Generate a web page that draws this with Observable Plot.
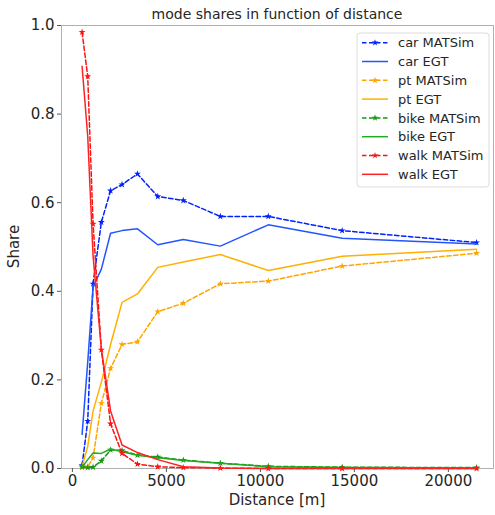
<!DOCTYPE html>
<html>
<head>
<meta charset="utf-8">
<script src="https://cdn.jsdelivr.net/npm/d3@7"></script>
<script src="https://cdn.jsdelivr.net/npm/@observablehq/plot@0.6"></script>
<style>
  html, body { margin: 0; padding: 0; background: #fff; }
  #chart svg { display: block; }
</style>
</head>
<body>
<div id="chart"></div>
<script>
const distances = [515, 815, 1100, 1540, 2030, 2640, 3460, 4540, 5900, 7870, 10420, 14350, 21500];

const carMATSim  = [0.007, 0.107, 0.417, 0.556, 0.627, 0.641, 0.665, 0.614, 0.605, 0.569, 0.569, 0.537, 0.510];
const carEGT     = [0.077, 0.240, 0.410, 0.450, 0.531, 0.537, 0.541, 0.505, 0.517, 0.502, 0.550, 0.520, 0.507];
const ptMATSim   = [0.002, 0.004, 0.024, 0.147, 0.226, 0.280, 0.286, 0.354, 0.373, 0.417, 0.423, 0.457, 0.486];
const ptEGT      = [0.005, 0.050, 0.130, 0.195, 0.280, 0.375, 0.394, 0.454, 0.466, 0.483, 0.447, 0.479, 0.495];
const bikeMATSim = [0.004, 0.002, 0.003, 0.017, 0.042, 0.041, 0.030, 0.026, 0.019, 0.012, 0.005, 0.003, 0.002];
const bikeEGT    = [0.003, 0.020, 0.035, 0.034, 0.044, 0.038, 0.030, 0.024, 0.018, 0.012, 0.004, 0.002, 0.001];
const walkMATSim = [0.985, 0.885, 0.552, 0.268, 0.101, 0.034, 0.010, 0.004, 0.002, 0.001, 0.000, 0.000, 0.000];
const walkEGT    = [0.908, 0.750, 0.480, 0.270, 0.130, 0.053, 0.036, 0.020, 0.004, 0.001, 0.000, 0.000, 0.000];

const seriesNames = ["car MATSim", "car EGT", "pt MATSim", "pt EGT", "bike MATSim", "bike EGT", "walk MATSim", "walk EGT"];
const seriesColors = ["#0022ff", "#2255ff", "#ffa500", "#ffb000", "#119911", "#22aa22", "#ff1111", "#ff2222"];
const yTicks = [0, 0.2, 0.4, 0.6, 0.8, 1.0];
const xTicks = [0, 5000, 10000, 15000, 20000];

const seriesValues = [carMATSim, carEGT, ptMATSim, ptEGT, bikeMATSim, bikeEGT, walkMATSim, walkEGT];
const rows = [];
seriesNames.forEach((name, i) => {
  seriesValues[i].forEach((v, j) => rows.push({series: name, distance: distances[j], share: v, sim: name.endsWith("MATSim")}));
});
const color = {domain: seriesNames, range: seriesColors};

const W = 495, H = 515;
const mL = 61, mR = 2, mT = 25, mB = 47;
const textColor = "#262626";

const plot = Plot.plot({
  width: W, height: H,
  marginLeft: mL, marginRight: mR, marginTop: mT, marginBottom: mB,
  style: {fontFamily: "DejaVu Sans, sans-serif", fontSize: "14px", color: textColor, background: "#fff"},
  x: {domain: [-580, 22400], ticks: xTicks, tickFormat: d3.format("d"), label: null},
  y: {domain: [0, 1], ticks: yTicks, tickFormat: d3.format(".1f"), label: null},
  color: color,
  marks: [
    Plot.frame({stroke: "#b0b0b0", strokeWidth: 1}),
    Plot.axisX({ticks: xTicks, tickFormat: d3.format("d"), tickSize: 4, tickPadding: 3, fontSize: 15, stroke: "#555", fill: textColor, label: null}),
    Plot.axisY({ticks: yTicks, tickFormat: d3.format(".1f"), tickSize: 4, tickPadding: 3, fontSize: 15, stroke: "#555", fill: textColor, label: null}),
    ...seriesNames.flatMap(name => {
      const data = rows.filter(d => d.series === name);
      const isSim = name.endsWith("MATSim");
      return isSim
        ? [Plot.line(data, {x: "distance", y: "share", stroke: "series", strokeWidth: 1.5, strokeDasharray: "4.5,2.5"}),
           Plot.dot(data, {x: "distance", y: "share", fill: "series", symbol: "star", r: 2.2, stroke: "none"})]
        : [Plot.line(data, {x: "distance", y: "share", stroke: "series", strokeWidth: 1.5})];
    })
  ]
});

const svg = d3.select(plot);
const plotCenterX = mL + (W - mL - mR) / 2;

svg.append("text")
  .attr("x", plotCenterX).attr("y", 19)
  .attr("text-anchor", "middle")
  .attr("font-size", 14).attr("fill", textColor)
  .text("mode shares in function of distance");

svg.append("text")
  .attr("x", plotCenterX).attr("y", 505)
  .attr("text-anchor", "middle")
  .attr("font-size", 15).attr("fill", textColor)
  .text("Distance [m]");

svg.append("text")
  .attr("transform", `translate(19, ${mT + (H - mT - mB) / 2}) rotate(-90)`)
  .attr("text-anchor", "middle")
  .attr("font-size", 15).attr("fill", textColor)
  .text("Share");

// legend
const lg = svg.append("g").attr("font-size", 13);
lg.append("rect")
  .attr("x", 357).attr("y", 33).attr("width", 132).attr("height", 154)
  .attr("rx", 3).attr("fill", "#fff").attr("fill-opacity", 0.85)
  .attr("stroke", "#dcdcdc");
seriesNames.forEach((name, i) => {
  const y = 42.7 + i * 18.8;
  const isSim = name.endsWith("MATSim");
  lg.append("line")
    .attr("x1", 362).attr("x2", 388).attr("y1", y).attr("y2", y)
    .attr("stroke", seriesColors[i]).attr("stroke-width", 1.5)
    .attr("stroke-dasharray", isSim ? "4.5,2.5" : null);
  if (isSim) {
    lg.append("path")
      .attr("d", d3.symbol(d3.symbolStar, 14)())
      .attr("transform", `translate(375, ${y})`)
      .attr("fill", seriesColors[i]);
  }
  lg.append("text")
    .attr("x", 398).attr("y", y).attr("dy", "0.36em")
    .attr("text-anchor", "start")
    .attr("fill", textColor)
    .text(name);
});

document.getElementById("chart").appendChild(plot);
</script>
</body>
</html>
